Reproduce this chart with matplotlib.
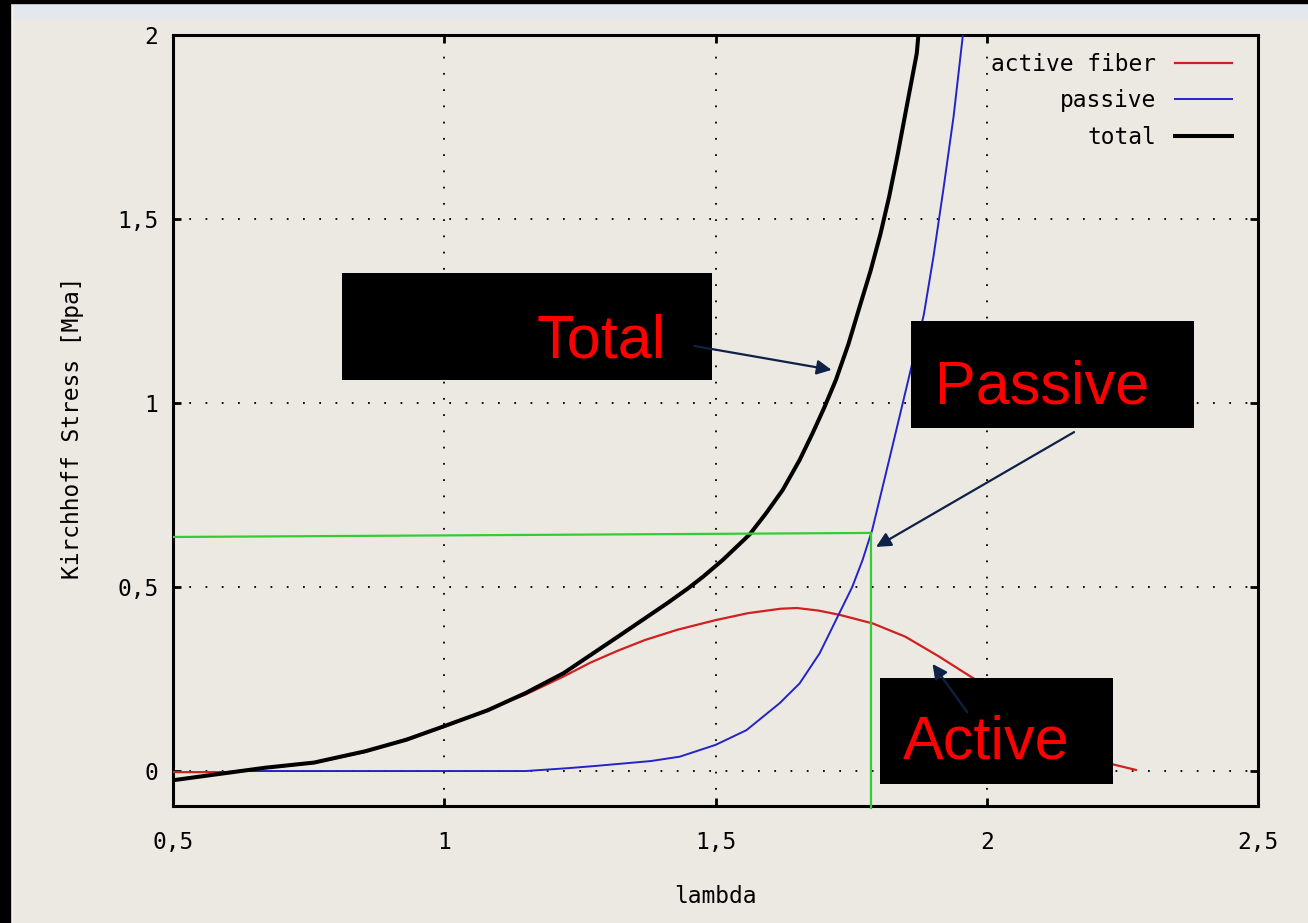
import numpy as np
import matplotlib
matplotlib.use('Agg')
import matplotlib.pyplot as plt
from matplotlib.patches import Rectangle

# curves (lambda, stress in MPa)
total_x = [0.5, 0.55, 0.6, 0.67, 0.76, 0.855, 0.93, 1.0, 1.08, 1.15, 1.22, 1.32, 1.41, 1.45,
           1.477, 1.513, 1.563, 1.593, 1.624, 1.655, 1.679, 1.70, 1.722, 1.745, 1.767, 1.786,
           1.804, 1.82, 1.835, 1.853, 1.871, 1.874]
total_y = [-0.025, -0.015, -0.005, 0.009, 0.023, 0.054, 0.085, 0.122, 0.165, 0.212, 0.266, 0.365, 0.455, 0.497,
           0.528, 0.573, 0.643, 0.70, 0.764, 0.845, 0.918, 0.986, 1.063, 1.16, 1.268, 1.36,
           1.459, 1.56, 1.669, 1.81, 1.95, 2.0]

active_x = [0.5, 0.6, 0.67, 0.76, 0.855, 1.0, 1.15, 1.22, 1.27, 1.32, 1.37, 1.43, 1.5, 1.56, 1.62,
            1.65, 1.69, 1.73, 1.79, 1.85, 1.91, 1.97, 2.05, 2.1, 2.15, 2.2, 2.23, 2.275]
active_y = [-0.003, -0.003, 0.008, 0.022, 0.052, 0.12, 0.208, 0.257, 0.295, 0.327, 0.356, 0.384, 0.410, 0.429, 0.441,
            0.443, 0.436, 0.424, 0.401, 0.365, 0.313, 0.257, 0.185, 0.137, 0.09, 0.045, 0.019, 0.003]

passive_x = [0.63, 1.15, 1.23, 1.28, 1.38, 1.434, 1.5, 1.557, 1.618, 1.655, 1.692, 1.716, 1.734,
             1.752, 1.771, 1.789, 1.822, 1.853, 1.884, 1.902, 1.92, 1.939, 1.956]
passive_y = [0.0, 0.0, 0.008, 0.014, 0.027, 0.039, 0.071, 0.111, 0.184, 0.238, 0.32, 0.392, 0.446,
             0.5, 0.573, 0.656, 0.857, 1.048, 1.24, 1.40, 1.58, 1.78, 2.0]

xticks = [0.5, 1.0, 1.5, 2.0, 2.5]
xticklabels = ['0,5', '1', '1,5', '2', '2,5']
yticks = [0.0, 0.5, 1.0, 1.5, 2.0]
yticklabels = ['0', '0,5', '1', '1,5', '2']

# green guide lines
guide_x = [0.5, 1.787]
guide_y = [0.636, 0.647]
guide_bottom = -0.1

# callouts: label, box (x0, x1, y0, y1), text (x, baseline y), arrow start, arrow tip
callouts = [
    ('Total',   (0.811, 1.494, 1.0625, 1.353), (1.290, 1.125), (1.461, 1.155), (1.714, 1.090)),
    ('Passive', (1.861, 2.382, 0.932, 1.223),  (2.102, 1.000), (2.161, 0.921), (1.796, 0.609)),
    ('Active',  (1.804, 2.233, -0.035, 0.253), (1.999, 0.033), (1.964, 0.160), (1.900, 0.291)),
]

bg = '#ece9e3'
mono = 'DejaVu Sans Mono'
fs = 16.5

W, H = 1308, 923
fig = plt.figure(figsize=(W/100, H/100), dpi=100, facecolor=bg)
ax = fig.add_axes([173/W, 1 - 806/H, (1258-173)/W, (806-35)/H])
ax.set_facecolor(bg)

# window frame bits
fig.patches.append(Rectangle((0, 0), 10/W, 1, transform=fig.transFigure, color='black', zorder=10))
fig.patches.append(Rectangle((0, 1 - 3/H), 1, 3/H, transform=fig.transFigure, color='black', zorder=10))
fig.patches.append(Rectangle((10/W, 1 - 18/H), 1, 15/H, transform=fig.transFigure, color='#e3e8ee', zorder=9))
fig.patches.append(Rectangle((10/W, 0), 2/W, 1, transform=fig.transFigure, color='#f6f5f2', zorder=9))

ax.plot(active_x, active_y, color='#d02020', lw=1.6, label='active fiber', zorder=3)
ax.plot(passive_x, passive_y, color='#2323c8', lw=1.4, label='passive', zorder=4)
ax.plot(total_x, total_y, color='black', lw=2.9, label='total', zorder=5)

ax.set_xlim(0.5, 2.5)
ax.set_ylim(-0.095, 2.0)
ax.set_xticks(xticks)
ax.set_xticklabels(xticklabels)
ax.set_yticks(yticks)
ax.set_yticklabels(yticklabels)
ax.tick_params(direction='in', length=6, width=2, top=True, right=True,
               labelsize=fs, colors='black')
ax.tick_params(axis='x', pad=18)
ax.tick_params(axis='y', pad=10.5)
for lab in ax.get_xticklabels() + ax.get_yticklabels():
    lab.set_family(mono)
for sp in ax.spines.values():
    sp.set_linewidth(2.2)

# dotted grid only inside
for gx in xticks[1:-1]:
    ax.axvline(gx, color='black', lw=1.3, ls=(0, (1, 8)), zorder=1)
for gy in yticks[:-1]:
    ax.axhline(gy, color='black', lw=1.3, ls=(0, (1, 8)), zorder=1)

ax.set_xlabel('lambda', family=mono, fontsize=fs)
ax.set_ylabel('Kirchhoff Stress [Mpa]', family=mono, fontsize=fs)
ax.xaxis.set_label_coords(0.5, -0.103)
ax.yaxis.set_label_coords(-0.082, 0.491)

leg = ax.legend(loc='upper right', bbox_to_anchor=(0.976, 0.977), borderaxespad=0, borderpad=0,
                frameon=False, markerfirst=False, handlelength=2.5, handletextpad=0.8,
                labelspacing=0.6, prop={'family': mono, 'size': fs})

# green guides
ax.plot(guide_x, guide_y, color='#33cc33', lw=1.6, zorder=6)
ax.plot([guide_x[1], guide_x[1]], [guide_y[1], guide_bottom], color='#33cc33', lw=1.6,
        zorder=6, clip_on=False)

for label, (x0, x1, y0, y1), (tx, ty), (sx, sy), (px, py) in callouts:
    ax.add_patch(Rectangle((x0, y0), x1 - x0, y1 - y0, facecolor='black', edgecolor='none',
                           zorder=7, clip_on=False))
    ax.text(tx, ty, label, color='#ff0000', family='Liberation Sans', fontsize=44,
            ha='center', va='baseline', zorder=8)
    ax.annotate('', xy=(px, py), xytext=(sx, sy), zorder=9,
                arrowprops=dict(arrowstyle='-|>', color='#0f2147', lw=1.6,
                                mutation_scale=22, shrinkA=0, shrinkB=0))

fig.savefig('out.png', dpi=100, facecolor=bg)
